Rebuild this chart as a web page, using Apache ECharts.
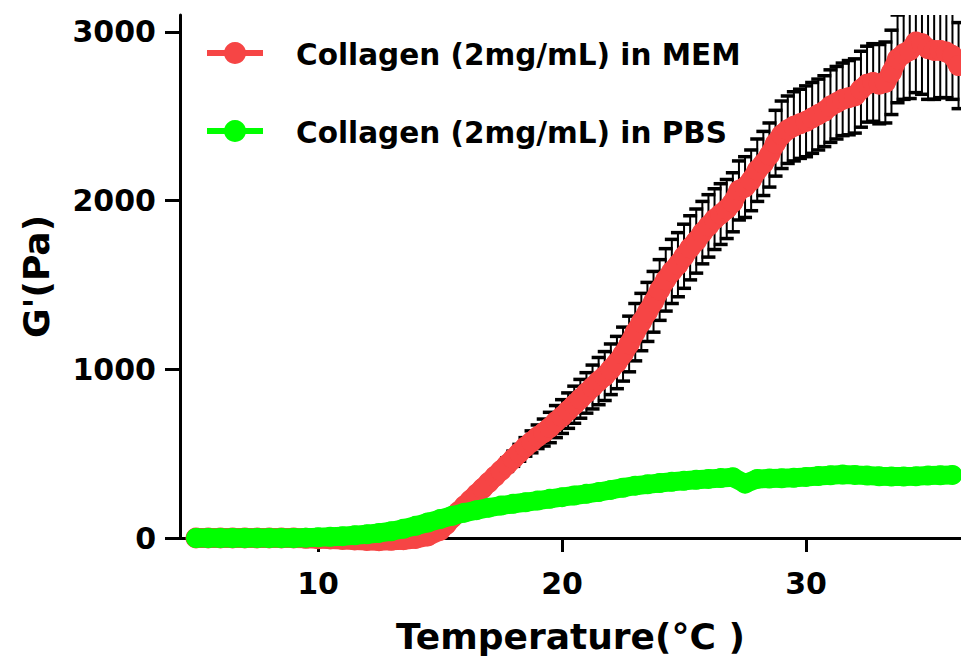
<!DOCTYPE html>
<html>
<head>
<meta charset="utf-8">
<script src="https://cdn.jsdelivr.net/npm/echarts@6/dist/echarts.min.js"></script>
<style>
html,body{margin:0;padding:0;background:#ffffff;}
#c{width:961px;height:662px;}
</style>
</head>
<body>
<div id="c"></div>
<script>
// ---- data ----
const seriesNames = ['Collagen (2mg/mL) in MEM', 'Collagen (2mg/mL) in PBS'];

const tempMEM = [5,5.5,6,6.5,7,7.5,8,8.5,9,9.5,10,10.5,11,11.5,12,12.5,13,13.5,14,14.5,
  15,15.25,15.5,15.75,16,16.25,16.5,16.75,17,17.25,17.5,17.75,18,18.25,18.5,18.75,
  19,19.25,19.5,19.75,20,20.25,20.5,20.75,21,21.25,21.5,21.75,22,22.25,22.5,22.75,
  23,23.25,23.5,23.75,24,24.25,24.5,24.75,25,25.25,25.5,25.75,26,26.25,26.5,26.75,
  27,27.25,27.5,27.75,28,28.25,28.5,28.75,29,29.25,29.5,29.75,30,30.25,30.5,30.75,
  31,31.25,31.5,31.75,32,32.25,32.5,32.75,33,33.25,33.5,33.75,34,34.25,34.5,34.75,
  35,35.25,35.5,35.75,36,36.25];

const gMEM = [0,0,0,0,0,0,0,0,0,-2,-4,-6,-9,-12,-15,-16,-14,-10,-3,12,
  45,80,120,155,190,225,260,295,330,365,400,435,470,505,540,570,
  600,625,655,690,720,755,790,825,860,895,930,960,1000,1040,1090,1150,
  1220,1280,1340,1400,1470,1530,1580,1620,1670,1720,1760,1810,1850,1890,1920,1950,
  1990,2060,2080,2120,2180,2220,2270,2340,2390,2420,2440,2455,2470,2490,2510,2530,
  2560,2580,2600,2610,2620,2660,2690,2700,2690,2700,2760,2840,2870,2890,2940,2930,
  2900,2890,2890,2880,2860,2800];

const sdMEM = [0,0,0,0,0,0,0,0,0,0,0,0,0,0,0,0,0,0,0,0,
  0,0,0,0,0,0,0,0,20,25,30,40,45,50,55,65,
  70,80,90,95,100,105,110,115,120,130,140,145,150,155,160,165,
  170,170,175,180,180,185,190,190,190,190,190,185,185,180,180,175,
  175,175,180,180,185,190,190,195,200,200,205,205,210,210,210,210,
  215,215,215,220,220,225,225,230,235,240,250,260,270,285,300,300,
  300,290,280,270,260,255];

const tempPBS = [5,5.5,6,6.5,7,7.5,8,8.5,9,9.5,10,10.5,11,11.5,12,12.5,13,13.5,14,14.5,
  15,15.5,16,16.5,17,17.5,18,18.5,19,19.5,20,20.5,21,21.5,22,22.5,23,23.5,24,24.5,
  25,25.5,26,26.5,27,27.5,28,28.5,29,29.5,30,30.5,31,31.5,32,32.5,33,33.5,34,34.5,
  35,35.5,36];

const gPBS = [0,0,0,0,0,0,0,0,0,2,4,7,11,16,22,30,40,55,72,92,
  112,132,150,165,180,192,203,212,222,232,242,252,262,272,285,298,310,318,326,333,
  339,345,350,355,360,322,350,352,354,357,362,367,372,376,374,370,366,364,364,366,
  370,372,374];

const xTicks = [10, 20, 30];
const yTicks = [0, 1000, 2000, 3000];

// ---- chart ----
const RED = '#F64545';
const GREEN = '#00FF00';
const FONT = "'DejaVu Sans', sans-serif";

const memData = tempMEM.map((t, i) => [t, gMEM[i]]);
const pbsData = tempPBS.map((t, i) => [t, gPBS[i]]);
const errData = tempMEM.map((t, i) => [t, gMEM[i], sdMEM[i]]).filter(d => d[2] > 0);

const chart = echarts.init(document.getElementById('c'), null, {renderer: 'svg'});

const option = {
  animation: false,
  backgroundColor: '#ffffff',
  grid: {left: 180, right: 0, top: 15, bottom: 124, containLabel: false},
  xAxis: {
    type: 'value', min: 4.344, max: 36.35,
    axisLine: {show: true, onZero: false, lineStyle: {color: '#000', width: 3}},
    axisTick: {show: true, length: 14, customValues: xTicks, lineStyle: {color: '#000', width: 3}},
    axisLabel: {customValues: xTicks, margin: 30, fontSize: 30, fontWeight: 'bold', color: '#000', fontFamily: FONT,
      formatter: v => String(v)},
    splitLine: {show: false},
    name: 'Temperature(°C )', nameLocation: 'middle', nameGap: 80,
    nameTextStyle: {fontSize: 36, fontWeight: 'bold', color: '#000', fontFamily: FONT}
  },
  yAxis: {
    type: 'value', min: 0, max: 3100,
    axisLine: {show: true, onZero: false, lineStyle: {color: '#000', width: 3}},
    axisTick: {show: true, length: 15, customValues: yTicks, lineStyle: {color: '#000', width: 3}},
    axisLabel: {customValues: yTicks, margin: 24, fontSize: 30, fontWeight: 'bold', color: '#000', fontFamily: FONT,
      formatter: v => String(v)},
    splitLine: {show: false},
    name: "G'(Pa)", nameLocation: 'middle', nameGap: 126, nameRotate: 90,
    nameTextStyle: {fontSize: 36, fontWeight: 'bold', color: '#000', fontFamily: FONT}
  },
  series: [
    {
      type: 'custom', name: 'err', z: 1, clip: true,
      data: errData,
      renderItem: function (params, api) {
        const t = api.value(0), v = api.value(1), e = api.value(2);
        const top = api.coord([t, v + e]);
        const bot = api.coord([t, v - e]);
        const hw = 7;
        return {
          type: 'group',
          children: [
            {type: 'line', shape: {x1: top[0], y1: top[1], x2: bot[0], y2: bot[1]}, style: {stroke: '#000', lineWidth: 2}},
            {type: 'line', shape: {x1: top[0] - hw, y1: top[1], x2: top[0] + hw, y2: top[1]}, style: {stroke: '#000', lineWidth: 3.5}},
            {type: 'line', shape: {x1: bot[0] - hw, y1: bot[1], x2: bot[0] + hw, y2: bot[1]}, style: {stroke: '#000', lineWidth: 3.5}}
          ]
        };
      }
    },
    {
      type: 'line', name: seriesNames[0], z: 3, data: memData, clip: false,
      symbol: 'circle', symbolSize: 21, showAllSymbol: true,
      lineStyle: {color: RED, width: 20, cap: 'round', join: 'round'},
      itemStyle: {color: RED}
    },
    {
      type: 'line', name: seriesNames[1], z: 4, data: pbsData, clip: false,
      symbol: 'circle', symbolSize: 20, showAllSymbol: true,
      lineStyle: {color: GREEN, width: 19, cap: 'round', join: 'round'},
      itemStyle: {color: GREEN}
    }
  ],
  graphic: [
    {type: 'line', shape: {x1: 207, y1: 53, x2: 263, y2: 53}, style: {stroke: RED, lineWidth: 6}},
    {type: 'circle', shape: {cx: 235, cy: 53, r: 11}, style: {fill: RED}},
    {type: 'text', x: 296, y: 55, style: {text: seriesNames[0], font: "bold 29.5px 'DejaVu Sans', sans-serif", fill: '#000', textVerticalAlign: 'middle'}},
    {type: 'line', shape: {x1: 207, y1: 131, x2: 263, y2: 131}, style: {stroke: GREEN, lineWidth: 6}},
    {type: 'circle', shape: {cx: 235, cy: 131, r: 11}, style: {fill: GREEN}},
    {type: 'text', x: 296, y: 133, style: {text: seriesNames[1], font: "bold 29.5px 'DejaVu Sans', sans-serif", fill: '#000', textVerticalAlign: 'middle'}}
  ]
};
chart.setOption(option);
</script>
</body>
</html>
